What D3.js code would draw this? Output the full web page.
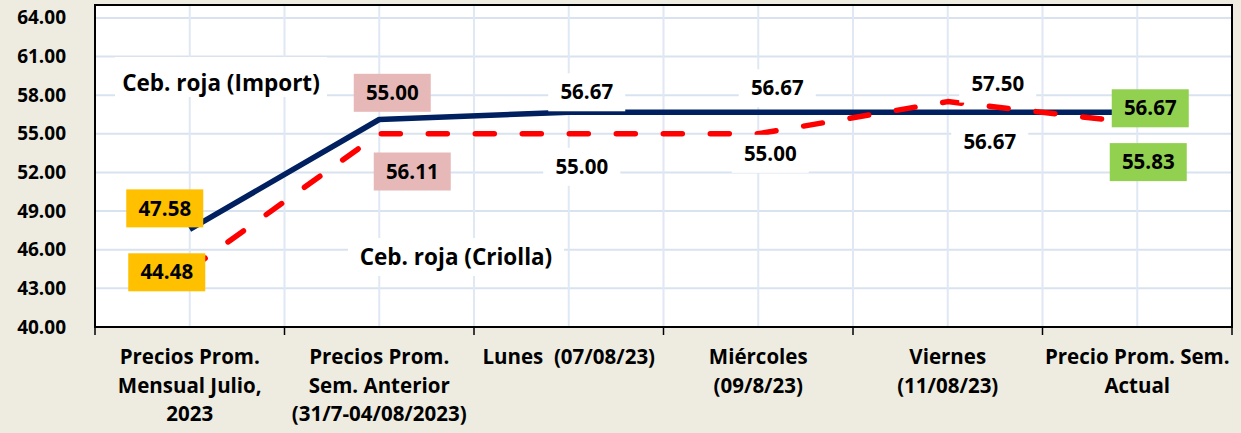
<!DOCTYPE html>
<html>
<head>
<meta charset="utf-8">
<script src="https://cdn.jsdelivr.net/npm/d3@7"></script>
<style>
  body { margin: 0; background: #EEECE1; }
  svg text { font-family: "Open Sans", Lato, sans-serif; font-weight: bold; fill: #000; white-space: pre; }
</style>
</head>
<body>
<div id="chart"></div>
<script>
// Categories on the x axis (one line per array entry)
var categories = [
  ["Precios Prom.", "Mensual Julio,", "2023"],
  ["Precios Prom.", "Sem. Anterior", "(31/7-04/08/2023)"],
  ["Lunes  (07/08/23)"],
  ["Miércoles", "(09/8/23)"],
  ["Viernes", "(11/08/23)"],
  ["Precio Prom. Sem.", "Actual"]
];

// Series values
var importValues = [47.58, 56.11, 56.67, 56.67, 56.67, 56.67];
var criollaValues = [44.48, 55.00, 55.00, 55.00, 57.50, 55.83];

// Y ticks
var yTicks = [40, 43, 46, 49, 52, 55, 58, 61, 64];

// Label placement relative to each point (dx, dy) and box colour
var importLabels = [
  {dx: -25, dy: -21, fill: "#FFC000"},
  {dx: 33, dy: 52, fill: "#E6B9B8"},
  {dx: 18, dy: -20, fill: "#FFFFFF"},
  {dx: 19, dy: -24, fill: "#FFFFFF"},
  {dx: 42, dy: 30, fill: "#FFFFFF"},
  {dx: 13, dy: -4, fill: "#92D050"}
];
var criollaLabels = [
  {dx: -23, dy: 3, fill: "#FFC000"},
  {dx: 13, dy: -41, fill: "#E6B9B8"},
  {dx: 13, dy: 33, fill: "#FFFFFF"},
  {dx: 12, dy: 20, fill: "#FFFFFF"},
  {dx: 50, dy: -18, fill: "#FFFFFF"},
  {dx: 11, dy: 39, fill: "#92D050"}
];

var width = 1241, height = 433;
var plotLeft = 95, plotRight = 1232, plotTop = 5, plotBottom = 327;

var svg = d3.select("#chart").append("svg")
  .attr("width", width)
  .attr("height", height);

var x = d3.scaleBand()
  .domain(d3.range(categories.length))
  .range([plotLeft, plotRight])
  .padding(0);

var y = d3.scaleLinear().domain([40, 65]).range([plotBottom, plotTop]);

function cx(i) { return x(i) + x.bandwidth() / 2; }

// plot area
svg.append("rect")
  .attr("x", plotLeft).attr("y", plotTop)
  .attr("width", plotRight - plotLeft).attr("height", plotBottom - plotTop)
  .attr("fill", "#fff");

// gridlines
var grid = svg.append("g");
grid.selectAll("line.h")
  .data(yTicks.filter(function(d) { return d > 40; }))
  .enter().append("line")
  .attr("x1", plotLeft).attr("x2", plotRight)
  .attr("y1", function(d) { return y(d); })
  .attr("y2", function(d) { return y(d); })
  .attr("stroke", "#D9E3F0").attr("stroke-width", 2);

var vLines = [];
d3.range(categories.length).forEach(function(i) {
  vLines.push(cx(i));
  if (i > 0) vLines.push(x(i));
});
grid.selectAll("line.v")
  .data(vLines)
  .enter().append("line")
  .attr("x1", function(d) { return d; })
  .attr("x2", function(d) { return d; })
  .attr("y1", plotTop).attr("y2", plotBottom)
  .attr("stroke", "#DFE8F3").attr("stroke-width", 2);

// y axis
var yAxis = svg.append("g")
  .attr("transform", "translate(" + plotLeft + ",0)")
  .call(d3.axisLeft(y).tickValues(yTicks).tickFormat(d3.format(".2f")).tickSize(0).tickPadding(29));
yAxis.select(".domain").remove();
yAxis.selectAll("text").style("font-size", "19px").attr("font-family", null);

// x axis ticks at category boundaries
var xAxis = svg.append("g")
  .attr("transform", "translate(0," + plotBottom + ")");
xAxis.selectAll("line")
  .data(d3.range(categories.length + 1))
  .enter().append("line")
  .attr("x1", function(i) { return x.range()[0] + i * x.bandwidth(); })
  .attr("x2", function(i) { return x.range()[0] + i * x.bandwidth(); })
  .attr("y1", 0).attr("y2", 8)
  .attr("stroke", "#000").attr("stroke-width", 1.5);

xAxis.selectAll("text.cat")
  .data(categories)
  .enter().append("text")
  .attr("class", "cat")
  .attr("text-anchor", "middle")
  .style("font-size", "20.5px")
  .each(function(lines, i) {
    d3.select(this).selectAll("tspan")
      .data(lines)
      .enter().append("tspan")
      .attr("x", cx(i))
      .attr("y", function(d, j) { return 37 + j * 28.5; })
      .text(function(d) { return d; });
  });

// plot border
svg.append("rect")
  .attr("x", plotLeft).attr("y", plotTop)
  .attr("width", plotRight - plotLeft).attr("height", plotBottom - plotTop)
  .attr("fill", "none")
  .attr("stroke", "#000").attr("stroke-width", 2);

// series lines
var line = d3.line()
  .x(function(d, i) { return cx(i); })
  .y(function(d) { return y(d); });

svg.append("path")
  .datum(importValues)
  .attr("d", line)
  .attr("fill", "none")
  .attr("stroke", "#002060")
  .attr("stroke-width", 5.5)
  .attr("stroke-linejoin", "round");

svg.append("path")
  .datum(criollaValues)
  .attr("d", line)
  .attr("fill", "none")
  .attr("stroke", "#FF0000")
  .attr("stroke-width", 5.5)
  .attr("stroke-linecap", "round")
  .attr("stroke-linejoin", "round")
  .attr("stroke-dasharray", "19 28");

// series name labels
function nameLabel(txt, tx, ty, bx, by, bw, bh) {
  svg.append("rect").attr("x", bx).attr("y", by).attr("width", bw).attr("height", bh).attr("fill", "#fff");
  svg.append("text").attr("x", tx).attr("y", ty).attr("text-anchor", "middle")
    .attr("dy", "0.35em").style("font-size", "22.5px").text(txt);
}
nameLabel("Ceb. roja (Import)", 221, 83, 115, 57, 212, 40);
nameLabel("Ceb. roja (Criolla)", 456, 257, 348, 238, 216, 38);

// data labels
function drawLabels(values, opts) {
  var g = svg.append("g");
  var lab = g.selectAll("g")
    .data(values)
    .enter().append("g")
    .attr("transform", function(d, i) {
      return "translate(" + (cx(i) + opts[i].dx) + "," + (y(d) + opts[i].dy) + ")";
    });
  lab.append("rect")
    .attr("x", -38.5).attr("y", -19)
    .attr("width", 77).attr("height", 38)
    .attr("fill", function(d, i) { return opts[i].fill; });
  lab.append("text")
    .attr("text-anchor", "middle")
    .attr("dy", "0.35em")
    .style("font-size", "20.5px")
    .text(function(d) { return d3.format(".2f")(d); });
}
drawLabels(importValues, importLabels);
drawLabels(criollaValues, criollaLabels);
</script>
</body>
</html>
